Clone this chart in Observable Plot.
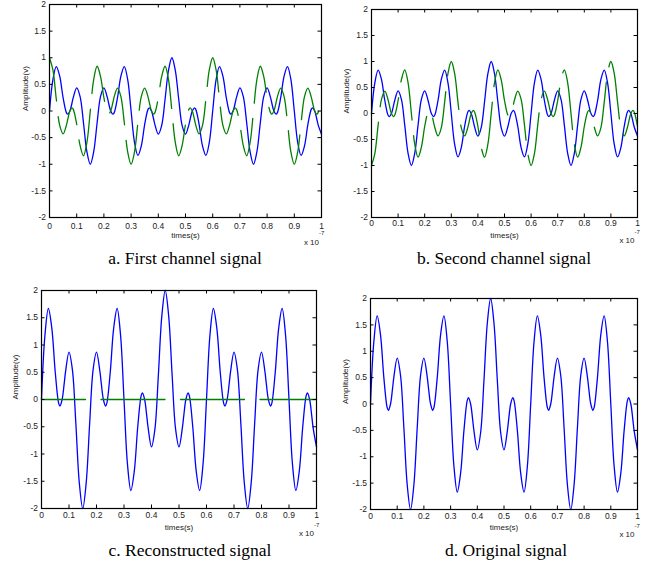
<!DOCTYPE html>
<html><head><meta charset="utf-8">
<script src="https://cdn.jsdelivr.net/npm/d3@7"></script>
<script src="https://cdn.jsdelivr.net/npm/@observablehq/plot@0.6"></script>
<style>
body{margin:0;background:#fff;}
#fig{position:relative;width:663px;height:568px;overflow:hidden;background:#fff;}
.panel{position:absolute;}
.cap{position:absolute;font-family:"Liberation Serif","Times New Roman",serif;font-size:17.5px;color:#000;white-space:nowrap;transform:translate(-50%,-50%);}
</style></head><body><div id="fig"></div>
<script>
// time axis (units of 1e-7 s)
const time = [0,0.0125,0.025,0.0375,0.05,0.0625,0.067,0.075,0.0825,0.0875,
0.1,0.1125,0.125,0.1375,0.15,0.1625,0.175,0.1875,0.2,0.2125,0.2175,0.225,0.233,0.2375,
0.25,0.2625,0.275,0.2875,0.3,0.3125,0.325,0.3375,0.35,0.3625,0.367,0.375,0.3825,0.3875,
0.4,0.4125,0.425,0.4375,0.45,0.4625,0.475,0.4875,0.5,0.5125,0.5175,0.525,0.533,0.5375,
0.55,0.5625,0.575,0.5875,0.6,0.6125,0.625,0.6375,0.65,0.6625,0.667,0.675,0.6825,0.6875,
0.7,0.7125,0.725,0.7375,0.75,0.7625,0.775,0.7875,0.8,0.8125,0.8175,0.825,0.833,0.8375,
0.85,0.8625,0.875,0.8875,0.9,0.9125,0.925,0.9375,0.95,0.9625,0.967,0.975,0.9825,0.9875,1];

// original / reconstructed signal (blue, panels c and d)
const originalSignal = [0,1.18,1.67,1.31,0.50,-0.07,-0.12,0,0.29,0.51,
0.87,0.54,-0.45,-1.53,-2,-1.53,-0.45,0.54,0.87,0.51,0.29,0,-0.12,-0.07,
0.50,1.31,1.67,1.18,0,-1.18,-1.67,-1.31,-0.50,0.07,0.12,0,-0.29,-0.51,
-0.87,-0.54,0.45,1.53,2,1.53,0.45,-0.54,-0.87,-0.51,-0.29,0,0.12,0.07,
-0.50,-1.31,-1.67,-1.18,0,1.18,1.67,1.31,0.50,-0.07,-0.12,0,0.29,0.51,
0.87,0.54,-0.45,-1.53,-2,-1.53,-0.45,0.54,0.87,0.51,0.29,0,-0.12,-0.07,
0.50,1.31,1.67,1.18,0,-1.18,-1.67,-1.31,-0.50,0.07,0.12,0,-0.29,-0.51,-0.87];

// in-phase part seen by each channel (blue, panels a and b)
const channelInPhase = [0,0.59,0.835,0.655,0.25,-0.035,-0.06,0,0.145,0.255,
0.435,0.27,-0.225,-0.765,-1,-0.765,-0.225,0.27,0.435,0.255,0.145,0,-0.06,-0.035,
0.25,0.655,0.835,0.59,0,-0.59,-0.835,-0.655,-0.25,0.035,0.06,0,-0.145,-0.255,
-0.435,-0.27,0.225,0.765,1,0.765,0.225,-0.27,-0.435,-0.255,-0.145,0,0.06,0.035,
-0.25,-0.655,-0.835,-0.59,0,0.59,0.835,0.655,0.25,-0.035,-0.06,0,0.145,0.255,
0.435,0.27,-0.225,-0.765,-1,-0.765,-0.225,0.27,0.435,0.255,0.145,0,-0.06,-0.035,
0.25,0.655,0.835,0.59,0,-0.59,-0.835,-0.655,-0.25,0.035,0.06,0,-0.145,-0.255,-0.435];

// quadrature part, channel 1 (green dashed, panel a)
const channel1Quad = [1,0.77,0.22,-0.27,-0.43,-0.26,-0.16,0,0.06,0.03,
-0.25,-0.65,-0.84,-0.59,0,0.59,0.84,0.65,0.25,-0.03,-0.06,0,0.16,0.26,
0.43,0.27,-0.22,-0.77,-1,-0.77,-0.22,0.27,0.43,0.26,0.16,0,-0.06,-0.03,
0.25,0.65,0.84,0.59,0,-0.59,-0.84,-0.65,-0.25,0.03,0.06,0,-0.16,-0.26,
-0.43,-0.27,0.22,0.77,1,0.77,0.22,-0.27,-0.43,-0.26,-0.16,0,0.06,0.03,
-0.25,-0.65,-0.84,-0.59,0,0.59,0.84,0.65,0.25,-0.03,-0.06,0,0.16,0.26,
0.43,0.27,-0.22,-0.77,-1,-0.77,-0.22,0.27,0.43,0.26,0.16,0,-0.06,-0.03,0.25];

// quadrature part, channel 2 (green dashed, panel b)
const channel2Quad = [-1,-0.77,-0.22,0.27,0.43,0.26,0.16,0,-0.06,-0.03,
0.25,0.65,0.84,0.59,0,-0.59,-0.84,-0.65,-0.25,0.03,0.06,0,-0.16,-0.26,
-0.43,-0.27,0.22,0.77,1,0.77,0.22,-0.27,-0.43,-0.26,-0.16,0,0.06,0.03,
-0.25,-0.65,-0.84,-0.59,0,0.59,0.84,0.65,0.25,-0.03,-0.06,0,0.16,0.26,
0.43,0.27,-0.22,-0.77,-1,-0.77,-0.22,0.27,0.43,0.26,0.16,0,-0.06,-0.03,
0.25,0.65,0.84,0.59,0,-0.59,-0.84,-0.65,-0.25,0.03,0.06,0,-0.16,-0.26,
-0.43,-0.27,0.22,0.77,1,0.77,0.22,-0.27,-0.43,-0.26,-0.16,0,0.06,0.03,-0.25];

// residual quadrature after reconstruction (green dashed, panel c)
const errorTime = [0, 1];
const reconError = [0, 0];

const xTicks = [0,0.1,0.2,0.3,0.4,0.5,0.6,0.7,0.8,0.9,1];
const yTicks = [-2,-1.5,-1,-0.5,0,0.5,1,1.5,2];
const xLabel = "times(s)";
const yLabel = "Amplitude(v)";
const captions = ["a. First channel signal","b. Second channel signal","c. Reconstructed signal","d. Original signal"];

const BLUE = "#0000ff", GREEN = "#008000";
const TL = 3.5;
const DASH = "64,15.5", DASHOFF = 20;

const panels = [
  {left:0, top:0, width:330, height:250, mL:49, mR:9, mT:4, mB:33, xtl:8.8, xl:18.3, ylx:-24, ex:[-2.5,24.5,15.5],
   series:[{x:time, y:channelInPhase, c:BLUE},{x:time, y:channel1Quad, c:GREEN, dash:true}], cap:[185,258]},
  {left:330, top:0, width:333, height:250, mL:41, mR:26, mT:9, mB:33, xtl:6, xl:18, ylx:-25.5, ex:[-3,22.5,15],
   series:[{x:time, y:channelInPhase, c:BLUE},{x:time, y:channel2Quad, c:GREEN, dash:true}], cap:[504,258]},
  {left:0, top:280, width:330, height:260, mL:41, mR:14, mT:10, mB:32, xtl:7, xl:18.7, ylx:-26, ex:[-2.5,25,17],
   series:[{x:time, y:originalSignal, c:BLUE},{x:errorTime, y:reconError, c:GREEN, dash:true, linear:true}], cap:[190,550]},
  {left:330, top:280, width:333, height:260, mL:40, mR:26, mT:18, mB:31, xtl:7, xl:18, ylx:-25, ex:[-3,25,17],
   series:[{x:time, y:originalSignal, c:BLUE}], cap:[506,550]}
];

const fig = document.getElementById("fig");
panels.forEach((p, i) => {
  const fw = p.width - p.mL - p.mR, fh = p.height - p.mT - p.mB;
  const marks = [];
  p.series.forEach(s => {
    marks.push(Plot.line(s.y, {x: s.x, y: d => d, stroke: s.c, strokeWidth: 1.3,
      curve: s.linear ? "linear" : "catmull-rom",
      strokeDasharray: s.dash ? DASH : null, strokeDashoffset: s.dash ? DASHOFF : null}));
  });
  marks.push(
    Plot.tickX(xTicks, {x: d => d, insetTop: fh - TL, stroke: "#000", strokeWidth: 1}),
    Plot.tickX(xTicks, {x: d => d, insetBottom: fh - TL, stroke: "#000", strokeWidth: 1}),
    Plot.tickY(yTicks, {y: d => d, insetRight: fw - TL, stroke: "#000", strokeWidth: 1}),
    Plot.tickY(yTicks, {y: d => d, insetLeft: fw - TL, stroke: "#000", strokeWidth: 1}),
    Plot.frame({stroke: "#000", strokeWidth: 1.2}),
    Plot.text(xTicks, {x: d => d, frameAnchor: "bottom", dy: p.xtl, text: d => String(d), lineAnchor: "middle", fill: "#222", fontSize: 8.5}),
    Plot.text(yTicks, {y: d => d, frameAnchor: "left", dx: -3.5, text: d => String(d), textAnchor: "end", lineAnchor: "middle", fill: "#222", fontSize: 8.5}),
    Plot.text([xLabel], {frameAnchor: "bottom", dy: p.xl, lineAnchor: "middle", fill: "#222", fontSize: 8}),
    Plot.text([yLabel], {frameAnchor: "left", dx: p.ylx, rotate: -90, lineAnchor: "middle", fill: "#222", fontSize: 8}),
    Plot.text(["x 10"], {frameAnchor: "bottom-right", dx: p.ex[0], dy: p.ex[1], textAnchor: "end", lineAnchor: "middle", fill: "#222", fontSize: 8}),
    Plot.text(["-7"], {frameAnchor: "bottom-right", dx: p.ex[0], dy: p.ex[2], textAnchor: "start", lineAnchor: "middle", fill: "#222", fontSize: 6})
  );
  const svg = Plot.plot({
    width: p.width, height: p.height,
    marginLeft: p.mL, marginRight: p.mR, marginTop: p.mT, marginBottom: p.mB,
    x: {domain: [0, 1], axis: null},
    y: {domain: [-2, 2], axis: null},
    style: {fontFamily: "'Liberation Sans', Arial, Helvetica, sans-serif", background: "transparent", overflow: "visible"},
    marks
  });
  svg.classList.add("panel");
  svg.style.left = p.left + "px";
  svg.style.top = p.top + "px";
  fig.appendChild(svg);
  const cap = document.createElement("div");
  cap.className = "cap";
  cap.textContent = captions[i];
  cap.style.left = p.cap[0] + "px";
  cap.style.top = p.cap[1] + "px";
  fig.appendChild(cap);
});
</script></body></html>
